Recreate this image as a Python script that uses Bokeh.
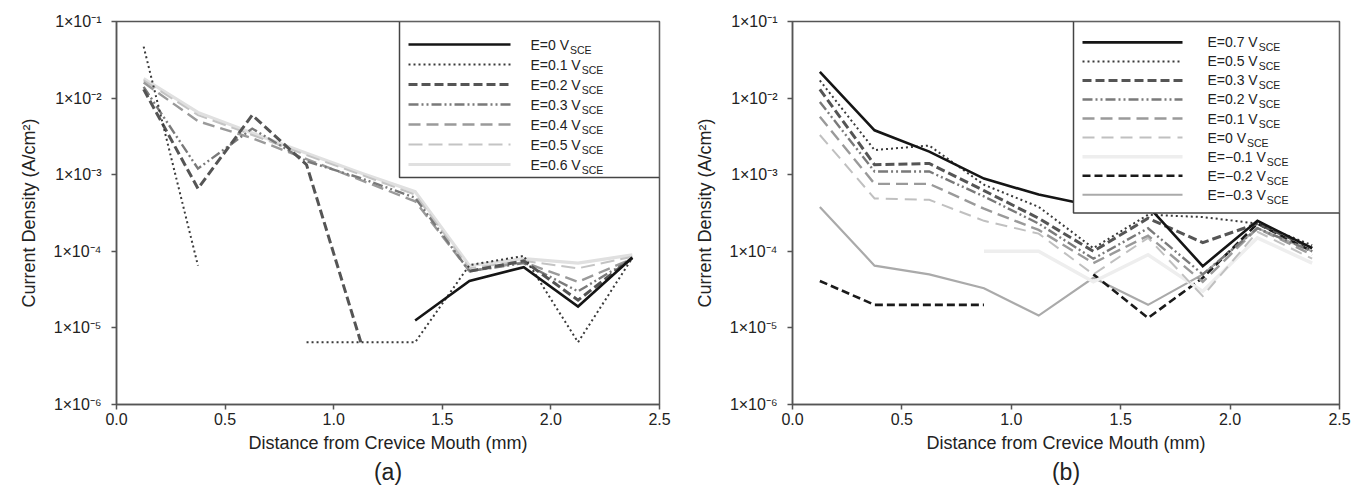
import math
from bokeh.plotting import figure
from bokeh.layouts import row
from bokeh.models import (FixedTicker, CustomJSTickFormatter, PrintfTickFormatter,
                          Title, ColumnDataSource, Range1d)
from bokeh.core.properties import value
from bokeh.embed import file_html
from bokeh.resources import INLINE

nan = float("nan")

# ---------------- data ----------------
distance_mm = [0.125, 0.375, 0.625, 0.875, 1.125, 1.375, 1.625, 1.875, 2.125, 2.375]

# panel (a)
a_labels = ["E=0 V", "E=0.1 V", "E=0.2 V", "E=0.3 V", "E=0.4 V", "E=0.5 V", "E=0.6 V"]
a_E00 = [nan, nan, nan, nan, nan, 1.25e-5, 4.1e-5, 6.2e-5, 1.9e-5, 8.3e-5]
a_E01 = [4.7e-2, 6.5e-5, nan, 6.5e-6, 6.5e-6, 6.5e-6, 6.6e-5, 8.7e-5, 6.5e-6, 8.2e-5]
a_E02 = [1.3e-2, 6.6e-4, 6.0e-3, 1.35e-3, 6.5e-6, nan, 5.5e-5, 7.5e-5, 2.3e-5, 8.2e-5]
a_E03 = [1.4e-2, 1.2e-3, 4.0e-3, 1.5e-3, 9.0e-4, 5.0e-4, 5.5e-5, 7.0e-5, 3.0e-5, 8.0e-5]
a_E04 = [1.6e-2, 5.0e-3, 3.0e-3, 1.6e-3, 8.5e-4, 4.5e-4, 5.5e-5, 7.2e-5, 4.0e-5, 8.0e-5]
a_E05 = [1.7e-2, 6.0e-3, 3.3e-3, 1.8e-3, 1.0e-3, 5.5e-4, 6.0e-5, 7.5e-5, 6.0e-5, 8.5e-5]
a_E06 = [1.8e-2, 6.5e-3, 3.5e-3, 1.9e-3, 1.05e-3, 6.0e-4, 6.5e-5, 8.0e-5, 7.0e-5, 9.0e-5]
a_series = [a_E00, a_E01, a_E02, a_E03, a_E04, a_E05, a_E06]

# panel (b)
b_labels = ["E=0.7 V", "E=0.5 V", "E=0.3 V", "E=0.2 V", "E=0.1 V", "E=0 V",
            "E=\u22120.1 V", "E=\u22120.2 V", "E=\u22120.3 V"]
b_E07 = [2.2e-2, 3.8e-3, 2.0e-3, 8.9e-4, 5.5e-4, 3.9e-4, 3.9e-4, 6.4e-5, 2.5e-4, 1.1e-4]
b_E05 = [1.7e-2, 2.1e-3, 2.4e-3, 7.4e-4, 3.8e-4, 1.1e-4, 3.0e-4, 2.8e-4, 2.3e-4, 1.2e-4]
b_E03 = [1.3e-2, 1.35e-3, 1.4e-3, 6.2e-4, 2.7e-4, 1.0e-4, 2.7e-4, 1.3e-4, 2.3e-4, 1.1e-4]
b_E02 = [8.9e-3, 1.1e-3, 1.1e-3, 5.2e-4, 2.3e-4, 8.0e-5, 2.0e-4, 5.0e-5, 2.0e-4, 1.0e-4]
b_E01 = [5.7e-3, 7.6e-4, 7.6e-4, 3.6e-4, 1.9e-4, 7.0e-5, 1.6e-4, 4.0e-5, 2.0e-4, 9.0e-5]
b_E00 = [3.3e-3, 4.9e-4, 4.7e-4, 2.5e-4, 1.7e-4, 5.0e-5, 1.5e-4, 2.6e-5, 1.8e-4, 8.0e-5]
b_Em01 = [nan, nan, nan, 1.0e-4, 1.0e-4, 4.0e-5, 9.0e-5, 3.0e-5, 1.5e-4, 7.0e-5]
b_Em02 = [4.1e-5, 2.0e-5, 2.0e-5, 2.0e-5, nan, 5.0e-5, 1.35e-5, 4.5e-5, 2.3e-4, 1.0e-4]
b_Em03 = [3.8e-4, 6.5e-5, 5.0e-5, 3.3e-5, 1.45e-5, 4.5e-5, 2.0e-5, 5.0e-5, 2.0e-4, 1.0e-4]
b_series = [b_E07, b_E05, b_E03, b_E02, b_E01, b_E00, b_Em01, b_Em02, b_Em03]

subscript = "SCE"
x_ticks = [0.0, 0.5, 1.0, 1.5, 2.0, 2.5]
y_ticks = [1e-6, 1e-5, 1e-4, 1e-3, 1e-2, 1e-1]
x_title = "Distance from Crevice Mouth (mm)"
y_title = "Current Density (A/cm\u00b2)"

# ---------------- styles ----------------
a_styles = [
    dict(color="#151515", width=2.6, dash="solid"),
    dict(color="#3a3a3a", width=2.0, dash="2 3"),
    dict(color="#555555", width=3.0, dash="9 4"),
    dict(color="#7a7a7a", width=2.4, dash="10 3 2 3 2 3"),
    dict(color="#9a9a9a", width=2.4, dash="12 6"),
    dict(color="#c4c4c4", width=2.0, dash="14 6"),
    dict(color="#e0e0e0", width=3.2, dash="solid"),
]
b_styles = [
    dict(color="#151515", width=2.6, dash="solid"),
    dict(color="#3a3a3a", width=2.0, dash="2 3"),
    dict(color="#555555", width=3.0, dash="9 4"),
    dict(color="#7a7a7a", width=2.4, dash="10 3 2 3 2 3"),
    dict(color="#9a9a9a", width=2.4, dash="12 6"),
    dict(color="#c0c0c0", width=2.0, dash="12 7"),
    dict(color="#eeeeee", width=3.5, dash="solid"),
    dict(color="#1a1a1a", width=2.6, dash="8 4"),
    dict(color="#aaaaaa", width=2.2, dash="solid"),
]

FONT = "Liberation Sans"
CHAR_W = {"E": 8.0, "=": 7.0, ".": 3.33, " ": 3.33, "V": 8.0, "\u2212": 7.0}
LEG_FS = 14


def text_width(s, size):
    return sum(CHAR_W.get(c, 6.67) for c in s) * size / 12.0


def make_panel(series, labels, styles, tag, border, legend):
    bl, br, bt, bb = border
    p = figure(width=678, height=500, y_axis_type="log",
               x_range=Range1d(0, 2.5), y_range=Range1d(1e-6, 1e-1),
               output_backend="svg", toolbar_location=None,
               min_border_left=bl, min_border_right=br,
               min_border_top=bt, min_border_bottom=bb)
    p.background_fill_color = "white"
    p.border_fill_color = "white"
    p.outline_line_color = "#555555"
    p.outline_line_width = 1.5
    p.xgrid.visible = False
    p.ygrid.visible = False

    for ax in (p.xaxis[0], p.yaxis[0]):
        ax.axis_line_color = "#555555"
        ax.axis_line_width = 1.5
        ax.major_tick_line_color = "#555555"
        ax.major_tick_line_width = 1.5
        ax.major_tick_in = 0
        ax.major_tick_out = 5
        ax.minor_tick_line_color = None
        ax.major_label_text_font = FONT
        ax.major_label_text_color = "#222222"
        ax.axis_label_text_font = FONT
        ax.axis_label_text_font_style = "normal"
        ax.axis_label_text_color = "#222222"

    p.xaxis.ticker = FixedTicker(ticks=x_ticks)
    p.xaxis.formatter = PrintfTickFormatter(format="%.1f")
    p.xaxis.major_label_text_font_size = "16px"
    p.xaxis.major_label_standoff = 3
    p.xaxis.axis_label = x_title
    p.xaxis.axis_label_text_font_size = "18px"
    p.xaxis.axis_label_standoff = 5

    p.yaxis.ticker = FixedTicker(ticks=y_ticks)
    p.yaxis.formatter = CustomJSTickFormatter(code="""
        const e = Math.round(Math.log10(tick));
        const sup = {'-':'\u207b','0':'\u2070','1':'\u00b9','2':'\u00b2','3':'\u00b3',
                     '4':'\u2074','5':'\u2075','6':'\u2076','7':'\u2077','8':'\u2078','9':'\u2079'};
        return '1\u00d710' + String(e).split('').map(c => sup[c]).join('');
    """)
    p.yaxis.major_label_text_font_size = "16px"
    p.yaxis.major_label_standoff = 10
    p.yaxis.axis_label = y_title
    p.yaxis.axis_label_text_font_size = "18px"
    p.yaxis.axis_label_standoff = 12

    # data lines (drawn last-to-first so the first legend entry sits on top)
    for vals, st in reversed(list(zip(series, styles))):
        p.line(distance_mm, vals, line_color=st["color"], line_width=st["width"],
               line_dash=st["dash"], line_join="miter")

    # legend box drawn as glyphs on top of the data
    lx0, lx1, ly_top, ly_bot, sx0, sx1, tx, rows_log = legend
    p.quad(left=[lx0], right=[lx1], top=[ly_top], bottom=[ly_bot],
           fill_color="white", line_color="#444444", line_width=1.5)
    for st, ry in zip(styles, rows_log):
        p.line([sx0, sx1], [ry, ry], line_color=st["color"], line_width=st["width"],
               line_dash=st["dash"])
    src = ColumnDataSource(dict(
        x=[tx] * len(labels), y=rows_log, t=labels,
        sub=[subscript] * len(labels),
        off=[text_width(s, LEG_FS) + 1 for s in labels]))
    p.text(x="x", y="y", text="t", source=src, text_font=value(FONT),
           text_font_size=f"{LEG_FS}px", text_baseline="middle", text_color="#222222")
    p.text(x="x", y="y", text="sub", source=src, text_font=value(FONT),
           text_font_size="10.5px", text_baseline="middle", text_color="#222222",
           x_offset="off", y_offset=5)

    p.add_layout(Title(text=tag, align="center", text_font=FONT,
                       text_font_size="23px", text_font_style="normal",
                       text_color="#222222", standoff=2), "below")
    return p


def legend_geom(frame_left, ppu, top_px, decade_px, box_l_px, box_b_px,
                s0_px, s1_px, t_px, row0_px, row_step, n):
    def xd(px):
        return (px - frame_left) / ppu

    def yd(px):
        return 10 ** (-1 - (px - top_px) / decade_px)

    rows = [yd(row0_px + row_step * i) for i in range(n)]
    return (xd(box_l_px), 2.5, 1e-1, yd(box_b_px), xd(s0_px), xd(s1_px), xd(t_px), rows)


leg_a = legend_geom(116, 217.2, 21, 76.6, 399, 177, 408, 510, 530, 44, 20, len(a_labels))
leg_b = legend_geom(114, 218.8, 19, 77.2, 395, 212, 404, 504, 529, 40, 19.2, len(b_labels))

pa = make_panel(a_series, a_labels, a_styles, "(a)", (116, 19, 21, 96), leg_a)
pb = make_panel(b_series, b_labels, b_styles, "(b)", (114, 17, 19, 95), leg_b)

layout = row(pa, pb)
open("out.html", "w").write(file_html(layout, INLINE))
